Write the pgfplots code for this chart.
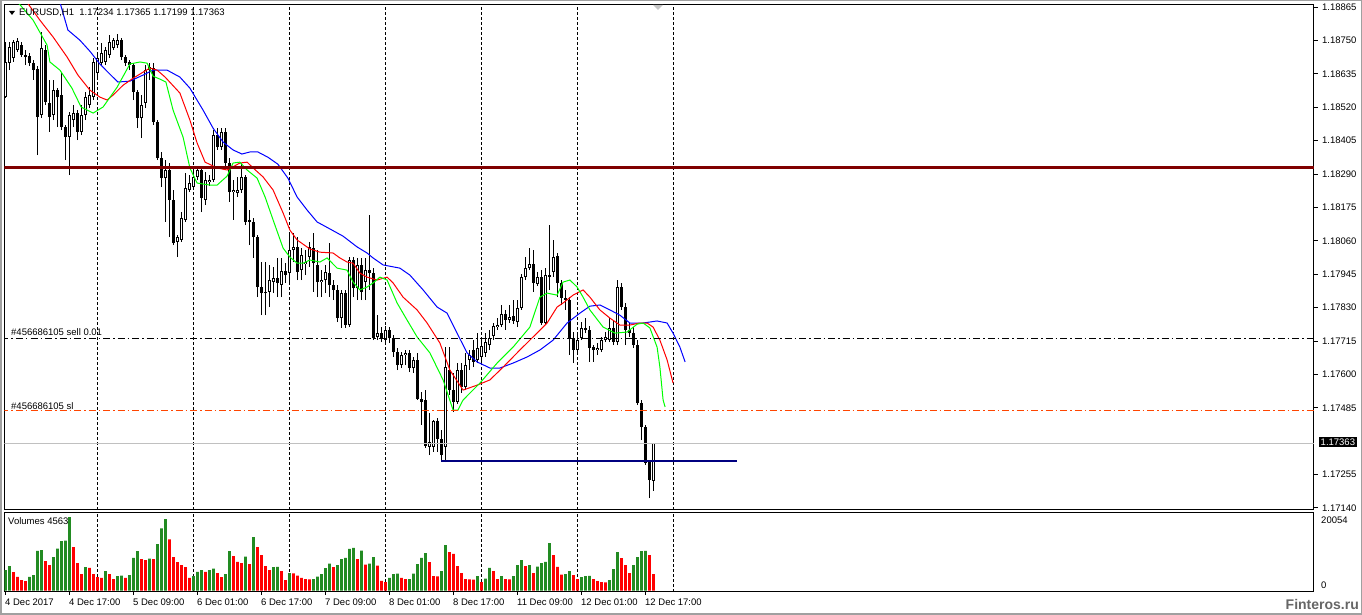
\documentclass[border=0pt]{standalone}
\usepackage{fontspec}
\setmainfont{Liberation Sans}
\usepackage{pgfplots}
\usepackage{pgfplotstable}
\pgfplotsset{compat=1.18}
\definecolor{lipsgreen}{HTML}{00FF00}
\definecolor{teethred}{HTML}{FF0000}
\definecolor{jawblue}{HTML}{0000FF}
\definecolor{levelmaroon}{HTML}{800000}
\definecolor{slorange}{HTML}{FF4500}
\definecolor{bidgray}{HTML}{C0C0C0}
\definecolor{trendnavy}{HTML}{000080}
\definecolor{volgreen}{HTML}{228B22}
\definecolor{volred}{HTML}{FF0000}
\definecolor{framegray}{HTML}{A0A0A0}

\pgfplotstableread{
k O H L C
0 1.18555 1.18744 1.18552 1.18676
1 1.18672 1.18744 1.18648 1.18727
2 1.18689 1.18751 1.18676 1.18744
3 1.18717 1.18758 1.18710 1.18748
4 1.18734 1.18744 1.18693 1.18700
5 1.18700 1.18717 1.18665 1.18693
6 1.18696 1.18707 1.18662 1.18672
7 1.18672 1.18682 1.18614 1.18648
8 1.18651 1.18662 1.18355 1.18486
9 1.18493 1.18779 1.18483 1.18724
10 1.18717 1.18734 1.18527 1.18538
11 1.18534 1.18614 1.18435 1.18486
12 1.18493 1.18614 1.18476 1.18579
13 1.18579 1.18586 1.18452 1.18555
14 1.18562 1.18638 1.18441 1.18452
15 1.18452 1.18459 1.18338 1.18417
16 1.18417 1.18503 1.18286 1.18493
17 1.18476 1.18527 1.18452 1.18500
18 1.18500 1.18510 1.18407 1.18435
19 1.18435 1.18527 1.18424 1.18493
20 1.18493 1.18572 1.18476 1.18555
21 1.18527 1.18589 1.18517 1.18562
22 1.18555 1.18689 1.18545 1.18676
23 1.18638 1.18700 1.18624 1.18689
24 1.18672 1.18741 1.18662 1.18707
25 1.18676 1.18727 1.18665 1.18717
26 1.18700 1.18768 1.18689 1.18744
27 1.18724 1.18758 1.18717 1.18751
28 1.18734 1.18772 1.18724 1.18751
29 1.18751 1.18758 1.18682 1.18693
30 1.18693 1.18700 1.18662 1.18672
31 1.18676 1.18682 1.18648 1.18665
32 1.18665 1.18672 1.18545 1.18572
33 1.18572 1.18579 1.18448 1.18483
34 1.18483 1.18562 1.18414 1.18527
35 1.18534 1.18665 1.18517 1.18648
36 1.18648 1.18672 1.18614 1.18658
37 1.18655 1.18672 1.18459 1.18469
38 1.18469 1.18476 1.18338 1.18345
39 1.18345 1.18366 1.18245 1.18276
40 1.18276 1.18338 1.18125 1.18304
41 1.18304 1.18328 1.18073 1.18200
42 1.18200 1.18235 1.18045 1.18052
43 1.18056 1.18080 1.18004 1.18073
44 1.18063 1.18159 1.18056 1.18138
45 1.18132 1.18293 1.18125 1.18242
46 1.18235 1.18286 1.18228 1.18259
47 1.18245 1.18304 1.18235 1.18280
48 1.18280 1.18314 1.18269 1.18304
49 1.18304 1.18311 1.18159 1.18207
50 1.18200 1.18297 1.18183 1.18269
51 1.18262 1.18286 1.18249 1.18269
52 1.18269 1.18441 1.18262 1.18424
53 1.18424 1.18448 1.18373 1.18383
54 1.18383 1.18448 1.18373 1.18435
55 1.18435 1.18448 1.18311 1.18328
56 1.18328 1.18345 1.18194 1.18228
57 1.18228 1.18269 1.18132 1.18235
58 1.18225 1.18280 1.18211 1.18235
59 1.18235 1.18328 1.18225 1.18280
60 1.18280 1.18286 1.18114 1.18125
61 1.18132 1.18166 1.18045 1.18125
62 1.18125 1.18138 1.18001 1.18073
63 1.18073 1.18080 1.17866 1.17901
64 1.17901 1.17987 1.17804 1.17880
65 1.17880 1.17987 1.17804 1.17884
66 1.17884 1.17977 1.17832 1.17925
67 1.17918 1.17970 1.17880 1.17932
68 1.17932 1.18001 1.17866 1.17915
69 1.17908 1.18001 1.17866 1.17956
70 1.17956 1.17983 1.17915 1.17942
71 1.17949 1.18087 1.17918 1.18028
72 1.18028 1.18087 1.17987 1.18039
73 1.18039 1.18073 1.17925 1.17952
74 1.17959 1.18035 1.17925 1.18011
75 1.17980 1.18028 1.17942 1.17987
76 1.18004 1.18056 1.17970 1.18039
77 1.18035 1.18087 1.17884 1.17983
78 1.17977 1.18028 1.17866 1.17918
79 1.17918 1.17959 1.17866 1.17925
80 1.17925 1.17977 1.17880 1.17952
81 1.17949 1.18052 1.17866 1.17908
82 1.17908 1.17925 1.17856 1.17891
83 1.17891 1.17908 1.17780 1.17794
84 1.17794 1.17891 1.17760 1.17880
85 1.17880 1.17891 1.17760 1.17770
86 1.17770 1.18004 1.17763 1.17994
87 1.17994 1.18004 1.17866 1.17897
88 1.17897 1.18001 1.17856 1.17977
89 1.17977 1.18001 1.17856 1.17884
90 1.17918 1.18001 1.17856 1.17959
91 1.17959 1.18149 1.17891 1.17949
92 1.17949 1.17966 1.17718 1.17725
93 1.17729 1.17804 1.17718 1.17742
94 1.17742 1.17763 1.17711 1.17725
95 1.17718 1.17767 1.17705 1.17753
96 1.17753 1.17763 1.17708 1.17725
97 1.17725 1.17736 1.17660 1.17677
98 1.17677 1.17691 1.17615 1.17632
99 1.17632 1.17677 1.17622 1.17667
100 1.17667 1.17684 1.17632 1.17674
101 1.17674 1.17684 1.17608 1.17622
102 1.17622 1.17660 1.17605 1.17650
103 1.17650 1.17674 1.17512 1.17515
104 1.17515 1.17539 1.17426 1.17505
105 1.17512 1.17546 1.17347 1.17353
106 1.17350 1.17467 1.17322 1.17367
107 1.17350 1.17443 1.17333 1.17440
108 1.17440 1.17450 1.17333 1.17378
109 1.17378 1.17409 1.17305 1.17322
110 1.17350 1.17694 1.17298 1.17625
111 1.17615 1.17694 1.17529 1.17546
112 1.17546 1.17605 1.17470 1.17505
113 1.17505 1.17639 1.17498 1.17615
114 1.17615 1.17639 1.17536 1.17557
115 1.17557 1.17674 1.17546 1.17632
116 1.17650 1.17684 1.17615 1.17667
117 1.17684 1.17718 1.17625 1.17643
118 1.17650 1.17742 1.17639 1.17691
119 1.17660 1.17718 1.17643 1.17698
120 1.17674 1.17742 1.17660 1.17711
121 1.17701 1.17753 1.17684 1.17725
122 1.17732 1.17777 1.17718 1.17767
123 1.17763 1.17794 1.17753 1.17770
124 1.17770 1.17839 1.17763 1.17808
125 1.17808 1.17822 1.17753 1.17787
126 1.17787 1.17839 1.17777 1.17798
127 1.17801 1.17856 1.17773 1.17784
128 1.17780 1.17856 1.17763 1.17829
129 1.17829 1.17945 1.17822 1.17935
130 1.17935 1.18004 1.17925 1.17966
131 1.17966 1.18035 1.17959 1.17980
132 1.17980 1.18028 1.17884 1.17915
133 1.17911 1.17952 1.17904 1.17935
134 1.17935 1.17959 1.17770 1.17777
135 1.17777 1.17966 1.17770 1.17942
136 1.17942 1.18114 1.17891 1.17935
137 1.17952 1.18063 1.17935 1.18004
138 1.18008 1.18018 1.17866 1.17915
139 1.17915 1.17925 1.17839 1.17863
140 1.17863 1.17891 1.17822 1.17856
141 1.17856 1.17866 1.17667 1.17725
142 1.17725 1.17746 1.17639 1.17684
143 1.17684 1.17736 1.17677 1.17718
144 1.17725 1.17780 1.17718 1.17760
145 1.17760 1.17794 1.17742 1.17753
146 1.17753 1.17767 1.17643 1.17691
147 1.17694 1.17701 1.17643 1.17684
148 1.17684 1.17708 1.17667 1.17691
149 1.17684 1.17729 1.17677 1.17718
150 1.17718 1.17746 1.17711 1.17729
151 1.17718 1.17794 1.17711 1.17760
152 1.17760 1.17787 1.17701 1.17711
153 1.17711 1.17925 1.17701 1.17901
154 1.17901 1.17915 1.17822 1.17832
155 1.17832 1.17846 1.17701 1.17753
156 1.17753 1.17777 1.17729 1.17742
157 1.17742 1.17763 1.17691 1.17701
158 1.17701 1.17718 1.17495 1.17501
159 1.17501 1.17512 1.17374 1.17419
160 1.17419 1.17426 1.17288 1.17295
161 1.17298 1.17305 1.17174 1.17236
162 1.17234 1.17365 1.17199 1.17363
}\candles

\begin{document}
\begin{tikzpicture}[font=\fontsize{9.5}{11}\selectfont]
\path[use as bounding box] (0,0) rectangle (1362pt,615pt);
\fill[white] (0,0) rectangle (1362pt,615pt);
\draw[framegray, line width=1.5pt] (0.75pt,0.75pt) rectangle (1361.25pt,614.25pt);

% ---------------- price panel ----------------
\begin{axis}[
  at={(4.5pt,610.5pt)}, anchor=north west,
  scale only axis, width=1309.5pt, height=505.5pt,
  xmin=-0.25, xmax=327.125, ymin=1.17133, ymax=1.18874,
  axis line style={black, line width=1pt},
  xtick=\empty,
  extra x ticks={23,47,71,95,119,143,167},
  extra x tick labels={},
  extra x tick style={grid=major, major tick length=0pt},
  major grid style={black, line width=1pt, dash pattern=on 3pt off 2pt},
  ytick={1.17140,1.17255,1.17485,1.17600,1.17715,1.17830,1.17945,1.18060,1.18175,1.18290,1.18405,1.18520,1.18635,1.18750,1.18865},
  yticklabels={1.17140,1.17255,1.17485,1.17600,1.17715,1.17830,1.17945,1.18060,1.18175,1.18290,1.18405,1.18520,1.18635,1.18750,1.18865},
  ytick pos=right, yticklabel pos=right,
  tick align=outside, major tick length=4pt,
  ytick style={black, line width=1pt},
  yticklabel style={anchor=west, inner sep=0pt, xshift=4pt, font=\fontsize{9.5}{11}\selectfont},
  /pgf/number format/assume math mode=true,
]
% wicks
\addplot[draw=none, mark=none, forget plot,
  error bars/.cd, y dir=plus, y explicit, error mark=none,
  error bar style={draw=black, line width=1pt, solid}]
  table[x=k, y=L, y error plus expr={\thisrow{H}-\thisrow{L}}] {\candles};
% bodies
\addplot[draw=none, mark=none, forget plot,
  error bars/.cd, y dir=plus, y explicit, error mark=none,
  error bar style={draw=black, line width=3pt, solid}]
  table[x=k, y expr={min(\thisrow{O},\thisrow{C})}, y error plus expr={max(abs(\thisrow{C}-\thisrow{O}),0.00004)}] {\candles};
% hollow interior of rising candles
\addplot[draw=none, mark=none, forget plot,
  error bars/.cd, y dir=plus, y explicit, error mark=none,
  error bar style={draw=white, line width=1pt, solid}]
  table[x=k, y expr={\thisrow{O}+0.0000344}, y error plus expr={max(\thisrow{C}-\thisrow{O}-0.0000688,0)}] {\candles};

% Alligator lines
\addplot[jawblue, line width=1pt] coordinates {(13.1,1.18906) (15.6,1.18786) (18.6,1.18751) (21.1,1.18713) (23.6,1.18669) (26.1,1.18634) (28.1,1.18607) (31.1,1.18610) (34.4,1.18631) (36.9,1.18648) (40.4,1.18648) (43.6,1.18624) (46.1,1.18586) (49.4,1.18510) (51.9,1.18448) (54.4,1.18400) (56.9,1.18373) (59.1,1.18359) (61.1,1.18366) (63.1,1.18366) (65.6,1.18348) (68.1,1.18324) (70.6,1.18276) (72.9,1.18211) (75.4,1.18166) (77.9,1.18125) (81.1,1.18101) (84.4,1.18076) (87.9,1.18039) (90.4,1.18018) (91.9,1.18001) (94.4,1.17977) (98.6,1.17966) (101.1,1.17942) (104.4,1.17891) (107.9,1.17832) (110.4,1.17811) (112.9,1.17742) (115.4,1.17674) (117.9,1.17643) (121.1,1.17622) (123.6,1.17622) (126.9,1.17639) (130.4,1.17660) (133.6,1.17684) (136.9,1.17718) (140.4,1.17777) (143.6,1.17811) (146.1,1.17835) (148.6,1.17839) (151.1,1.17822) (153.6,1.17804) (156.1,1.17777) (159.4,1.17777) (162.9,1.17784) (165.4,1.17777) (166.9,1.17742) (168.6,1.17694) (169.9,1.17643)};
\addplot[teethred, line width=1pt] coordinates {(4.1,1.18906) (8.6,1.18820) (11.9,1.18762) (15.4,1.18693) (18.1,1.18631) (21.1,1.18579) (23.6,1.18555) (25.4,1.18545) (26.9,1.18562) (29.4,1.18596) (31.9,1.18620) (34.4,1.18641) (36.1,1.18655) (37.9,1.18648) (39.9,1.18624) (43.6,1.18569) (46.1,1.18476) (47.9,1.18397) (49.9,1.18331) (52.9,1.18311) (55.4,1.18304) (58.6,1.18328) (60.4,1.18331) (61.9,1.18311) (64.4,1.18280) (66.9,1.18235) (69.4,1.18156) (71.1,1.18097) (72.9,1.18063) (76.1,1.18032) (78.6,1.18021) (81.9,1.18018) (83.6,1.18001) (85.4,1.17987) (86.9,1.17983) (88.6,1.17949) (90.4,1.17935) (92.9,1.17925) (95.4,1.17935) (96.9,1.17915) (99.4,1.17866) (102.9,1.17822) (105.4,1.17777) (108.6,1.17708) (111.1,1.17615) (114.4,1.17546) (117.9,1.17563) (121.1,1.17581) (124.4,1.17625) (128.6,1.17684) (131.9,1.17729) (135.4,1.17777) (137.9,1.17832) (139.4,1.17846) (141.9,1.17873) (144.4,1.17891) (146.1,1.17866) (148.6,1.17822) (151.1,1.17794) (153.6,1.17770) (156.1,1.17770) (158.6,1.17777) (160.4,1.17777) (161.9,1.17763) (163.6,1.17718) (165.4,1.17650) (166.9,1.17570)};
\addplot[lipsgreen, line width=1pt] coordinates {(1.6,1.18906) (6.9,1.18820) (10.4,1.18734) (11.1,1.18676) (13.6,1.18648) (16.6,1.18586) (18.9,1.18521) (21.9,1.18500) (24.4,1.18521) (27.9,1.18589) (31.1,1.18669) (33.6,1.18676) (35.4,1.18672) (36.9,1.18627) (38.6,1.18617) (40.1,1.18607) (41.9,1.18510) (44.4,1.18417) (46.1,1.18311) (47.9,1.18259) (51.1,1.18252) (52.9,1.18252) (55.4,1.18283) (56.9,1.18328) (58.6,1.18331) (60.4,1.18304) (62.9,1.18276) (64.9,1.18211) (66.9,1.18132) (69.4,1.18035) (71.1,1.18004) (72.9,1.17983) (74.4,1.17983) (76.1,1.17994) (78.6,1.17987) (80.4,1.18001) (82.9,1.17966) (85.4,1.17959) (86.9,1.17918) (88.6,1.17891) (90.4,1.17901) (91.9,1.17915) (93.6,1.17935) (95.4,1.17925) (97.9,1.17846) (100.4,1.17787) (102.9,1.17729) (106.1,1.17674) (109.4,1.17581) (111.9,1.17477) (113.1,1.17477) (114.4,1.17512) (118.6,1.17570) (122.9,1.17639) (126.9,1.17694) (131.1,1.17763) (133.6,1.17866) (135.4,1.17880) (137.9,1.17873) (139.4,1.17918) (141.1,1.17925) (142.9,1.17901) (144.4,1.17866) (146.1,1.17822) (149.4,1.17763) (152.4,1.17742) (155.4,1.17746) (157.9,1.17773) (159.4,1.17777) (161.1,1.17760) (162.9,1.17694) (163.6,1.17625) (164.4,1.17512) (164.9,1.17488)};

% horizontal levels
\addplot[bidgray, line width=1pt] coordinates {(-1,1.17363) (330,1.17363)};
\addplot[black, line width=1pt, dash pattern=on 7pt off 3pt on 1.5pt off 3pt] coordinates {(-1,1.17722) (330,1.17722)};
\addplot[slorange, line width=1pt, dash pattern=on 7pt off 3pt on 1.5pt off 3pt] coordinates {(-1,1.17474) (330,1.17474)};
\addplot[levelmaroon, line width=3pt] coordinates {(-1,1.18314) (330,1.18314)};
\addplot[trendnavy, line width=2.5pt] coordinates {(109,1.17302) (183,1.17302)};
\end{axis}

% ---------------- volume panel ----------------
\begin{axis}[
  at={(4.5pt,102pt)}, anchor=north west,
  scale only axis, width=1309.5pt, height=79pt,
  xmin=-0.25, xmax=327.125, ymin=-400, ymax=21200,
  axis line style={black, line width=1pt},
  xtick={0,16,32,48,64,80,96,112,128,144,160},
  xticklabels={4 Dec 2017,4 Dec 17:00,5 Dec 09:00,6 Dec 01:00,6 Dec 17:00,7 Dec 09:00,8 Dec 01:00,8 Dec 17:00,11 Dec 09:00,12 Dec 01:00,12 Dec 17:00},
  xtick pos=left, tick align=outside, major tick length=3pt,
  xtick style={black, line width=1pt},
  xticklabel style={anchor=north west, inner sep=0pt, xshift=-0.5pt, yshift=-4pt, font=\fontsize{9.5}{11}\selectfont},
  extra x ticks={23,47,71,95,119,143,167},
  extra x tick labels={},
  extra x tick style={grid=major, major tick length=0pt},
  major grid style={black, line width=1pt, dash pattern=on 3pt off 2pt},
  ytick=\empty,
  ybar, bar width=2.8pt,
]
\addplot[fill=volgreen, draw=none, bar shift=0pt] coordinates {(0,5563) (1,6658) (6,3739) (7,4195) (8,10853) (9,11035) (12,9120) (13,11491) (14,13498) (15,13680) (16,20054) (20,6384) (25,5290) (28,3922) (29,4104) (31,4195) (32,8938) (33,10762) (36,8755) (38,12677) (39,16963) (40,19517) (47,3922) (48,5107) (49,5563) (51,5563) (52,6019) (55,4469) (56,10762) (60,9302) (62,14592) (67,6384) (68,6450) (71,4742) (77,3150) (78,3830) (79,4469) (80,6110) (81,7387) (83,6931) (84,8573) (85,8938) (86,11400) (87,11674) (89,10944) (91,7387) (92,9120) (96,3466) (97,4469) (98,4651) (101,3150) (102,4651) (103,7205) (104,8938) (105,10214) (109,5290) (110,12403) (118,3922) (120,3283) (121,6202) (124,3922) (127,3922) (128,6931) (129,8299) (131,6931) (133,6566) (134,7478) (135,7843) (136,12950) (140,4469) (141,5290) (144,3648) (145,3922) (146,3990) (151,2827) (152,5837) (153,10488) (157,6931) (158,9120) (159,10762) (160,10850)};
\addplot[fill=volred, draw=none, bar shift=0pt] coordinates {(2,5016) (3,3739) (4,2827) (5,2554) (10,8026) (11,6931) (17,11856) (18,7478) (19,4469) (21,6202) (22,4469) (23,3648) (24,3466) (26,4469) (27,3101) (30,3466) (34,8573) (35,8299) (37,8573) (41,13954) (42,9120) (43,7752) (44,6931) (45,6384) (46,3466) (50,5107) (53,4742) (54,3648) (57,9394) (58,7843) (59,7478) (61,7205) (63,11856) (64,9667) (65,6658) (66,5563) (69,5290) (70,2827) (72,4700) (73,4104) (74,3466) (75,3101) (76,3050) (82,6384) (88,8573) (90,7114) (93,6840) (94,2645) (95,2280) (99,3466) (100,3101) (106,7752) (107,3922) (108,3850) (111,10488) (112,10000) (113,6658) (114,4742) (115,3101) (116,3050) (117,3000) (119,2280) (122,5290) (123,3101) (125,3101) (126,3050) (130,6658) (132,4742) (137,9667) (138,6475) (139,4378) (142,4195) (143,3101) (147,3101) (148,2554) (149,2280) (150,2200) (154,8846) (155,6931) (156,4742) (161,9667) (162,4469)};
\end{axis}

% ---------------- texts and markers ----------------
\fill[black] (9pt,604pt) -- (15pt,604pt) -- (12pt,600pt) -- cycle;
\node[anchor=west, inner sep=0pt] at (19pt,602.5pt) {EURUSD,H1\ \ 1.17234 1.17365 1.17199 1.17363};
\fill[gray!45] (653pt,610pt) -- (663pt,610pt) -- (658pt,605pt) -- cycle;
\node[anchor=west, inner sep=0pt] at (11pt,282.5pt) {\#456686105 sell 0.01};
\node[anchor=west, inner sep=0pt] at (11pt,208.5pt) {\#456686105 sl};
\node[anchor=west, inner sep=0pt] at (8pt,94pt) {Volumes 4563};
\node[anchor=west, fill=black, text=white, inner xsep=2pt, inner ysep=1.5pt] at (1318.5pt,173pt) {1.17363};
\node[anchor=west, inner sep=0pt] at (1321pt,95pt) {20054};
\node[anchor=west, inner sep=0pt] at (1321pt,30pt) {0};
\node[anchor=east, inner sep=0pt, text=black!60, font=\bfseries\fontsize{14}{16}\selectfont] at (1359pt,10.5pt) {Finteros.ru};
\end{tikzpicture}
\end{document}
